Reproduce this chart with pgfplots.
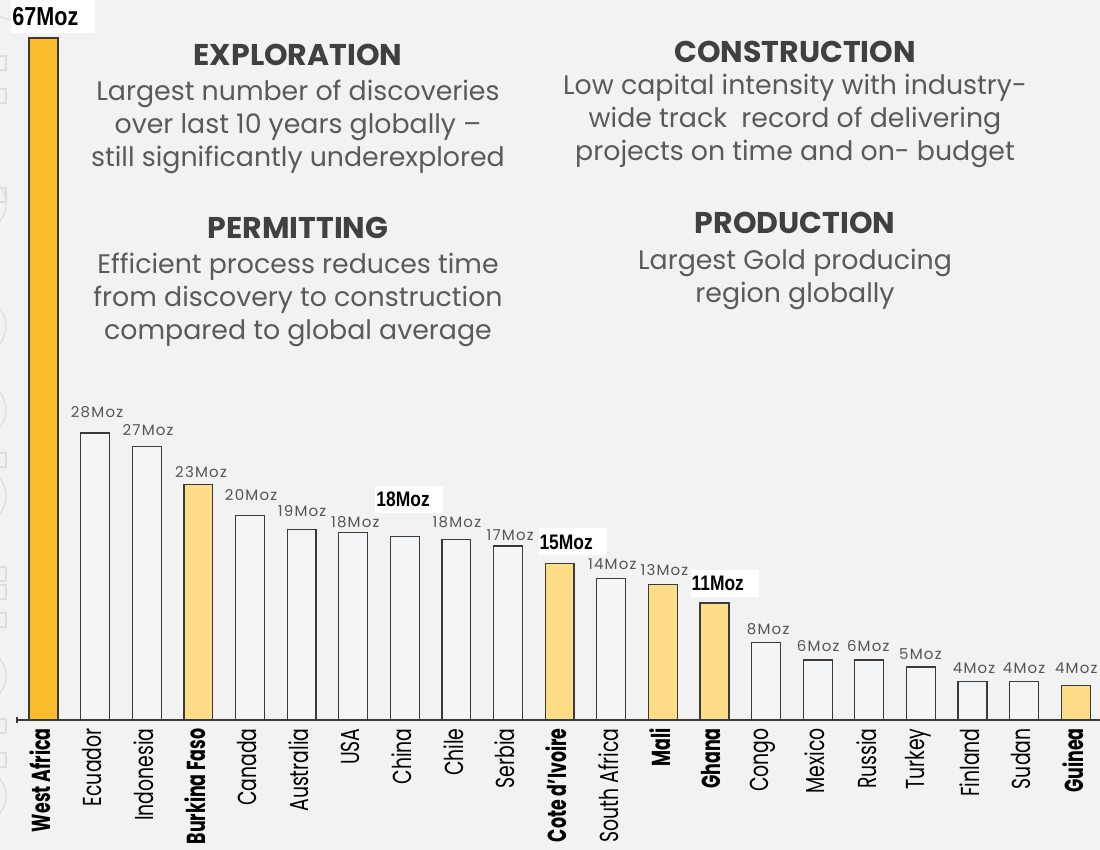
\documentclass[border=0pt]{standalone}
\usepackage{graphicx}
\usepackage{pgfplots}
\pgfplotsset{compat=1.18}
\usepackage{fontspec}
\setmainfont{Poppins}
\newfontfamily\arialb{Liberation Sans}
\newfontfamily\spaced[LetterSpace=8]{Poppins}
\definecolor{bg}{HTML}{F2F2F2}
\definecolor{gold}{HTML}{FBBC2C}
\definecolor{lightgold}{HTML}{FDDD87}
\definecolor{barwhite}{HTML}{F4F5F7}
\definecolor{edge}{HTML}{3A3A3A}
\definecolor{head}{HTML}{404040}
\definecolor{bodyc}{HTML}{5A5A5A}
\definecolor{vallab}{HTML}{555555}
\definecolor{deco}{HTML}{DDDDDD}
\newcommand\tl[1]{\scalebox{0.725}[1]{#1}}
\newcommand\tlb[1]{\scalebox{0.67}[1]{\textbf{#1}}}
\begin{document}
\begin{tikzpicture}
\fill[bg] (0,0) rectangle (550pt,425pt);
\useasboundingbox (0,0) rectangle (550pt,425pt);
% faint decorative shapes at the left edge
\begin{scope}[draw=deco, line width=0.6pt]
  \foreach \yc in {323,262,220,177,87,27} {\draw (-11pt,\yc pt) circle (14pt);}
  \foreach \yc in {393.5,377,327.5,195,129,115,138,62,45} {\draw (-2pt,\yc pt-3.5pt) rectangle (3pt,\yc pt+3.5pt);}
  \draw (-5pt,425pt) arc (180:360:12pt and 10pt);
\end{scope}
\begin{axis}[
  at={(8.5pt,65pt)}, anchor=south west,
  scale only axis, width=541.5pt, height=360pt,
  xmin=-0.514, xmax=20.47, ymin=0, ymax=70.73,
  clip=false,
  axis x line*=bottom, axis y line=none,
  x axis line style={-, draw=edge, line width=0.6pt},
  xtick={0,...,20}, xtick style={draw=none},
  xticklabels={\tlb{West Africa},\tl{Ecuador},\tl{Indonesia},\tlb{Burkina Faso},\tl{Canada},\tl{Australia},\tl{USA},\tl{China},\tl{Chile},\tl{Serbia},\tlb{Cote d'Ivoire},\tl{South Africa},\tlb{Mali},\tlb{Ghana},\tl{Congo},\tl{Mexico},\tl{Russia},\tl{Turkey},\tl{Finland},\tl{Sudan},\tlb{Guinea}},
  xticklabel style={yshift=-4pt, xshift=-1.5pt, rotate=90, anchor=east, inner sep=0pt, font=\fontsize{13}{15}\selectfont, text=black},
  ytick=\empty,
]
% West Africa
\addplot[ybar, bar shift=0pt, bar width=0.56, fill=gold, draw=edge, line width=0.6pt]
  coordinates {(0,67)};
% highlighted countries
\addplot[ybar, bar shift=0pt, bar width=0.56, fill=lightgold, draw=edge, line width=0.6pt]
  coordinates {(3,23.1) (10,15.4) (12,13.3) (13,11.5) (20,3.4)};
% other countries
\addplot[ybar, bar shift=0pt, bar width=0.56, fill=barwhite, draw=edge, line width=0.6pt]
  coordinates {(1,28.2) (2,26.9) (4,20.1) (5,18.7) (6,18.4) (7,18.0) (8,17.7) (9,17.1) (11,13.9) (14,7.6) (15,5.9) (16,5.9) (17,5.2) (18,3.8) (19,3.8)};
% gray value labels
\addplot[draw=none, mark=none, point meta=explicit symbolic, nodes near coords,
  every node near coord/.append style={anchor=center, inner sep=0pt, text=vallab, font=\spaced\fontsize{7.5}{8.5}\selectfont}]
  coordinates {(1.037,30.26)[28Moz] (2.025,28.49)[27Moz] (3.052,24.36)[23Moz] (4.021,22.10)[20Moz] (5.01,20.53)[19Moz] (6.04,19.45)[18Moz] (8.01,19.45)[18Moz] (9.04,18.17)[17Moz] (11.02,15.32)[14Moz] (12.03,14.73)[13Moz] (14.04,8.94)[8Moz] (15.01,7.27)[6Moz] (15.98,7.27)[6Moz] (16.99,6.48)[5Moz] (18.03,5.11)[4Moz] (19.0,5.11)[4Moz] (20.01,5.11)[4Moz]};
% bold value labels
\addplot[draw=none, mark=none, point meta=explicit symbolic,
  nodes near coords={\makebox[33pt][l]{\scalebox{0.83}[1]{\pgfplotspointmeta}}},
  every node near coord/.append style={anchor=west, fill=white, inner xsep=0.5pt, inner ysep=0pt, minimum height=13.5pt, text=black, font=\arialb\bfseries\fontsize{10.5}{12}\selectfont}]
  coordinates {(6.424,21.66)[18Moz] (9.583,17.49)[15Moz] (12.53,13.41)[11Moz]};
\addplot[draw=none, mark=none, point meta=explicit symbolic,
  nodes near coords={\makebox[41pt][l]{\scalebox{0.83}[1]{\pgfplotspointmeta}}},
  every node near coord/.append style={anchor=west, fill=white, inner xsep=0.5pt, inner ysep=0pt, minimum height=16.5pt, text=black, font=\arialb\bfseries\fontsize{13}{15}\selectfont}]
  coordinates {(-0.63,69.1)[67Moz]};
\end{axis}
% small tick at the left end of the base line
\draw[edge, line width=0.6pt] (8.5pt,63.5pt) -- (8.5pt,66.5pt);
% annotation texts
\node[text=head, font=\bfseries\fontsize{15}{18}\selectfont] at (149pt,397.5pt) {EXPLORATION};
\node[text=bodyc, align=center, font=\fontsize{13.4}{16.5}\selectfont] at (149pt,361.5pt) {Largest number of discoveries\\over last 10 years globally --\\still significantly underexplored};
\node[text=head, font=\bfseries\fontsize{15}{18}\selectfont] at (397.5pt,399pt) {CONSTRUCTION};
\node[text=bodyc, align=center, font=\fontsize{13.4}{16.5}\selectfont] at (397.5pt,364.5pt) {Low capital intensity with industry-\\wide track\ \ record of delivering\\projects on time and on- budget};
\node[text=head, font=\bfseries\fontsize{15}{18}\selectfont] at (149pt,311pt) {PERMITTING};
\node[text=bodyc, align=center, font=\fontsize{13.4}{16.5}\selectfont] at (149pt,275pt) {Efficient process reduces time\\from discovery to construction\\compared to global average};
\node[text=head, font=\bfseries\fontsize{15}{18}\selectfont] at (397.5pt,313.5pt) {PRODUCTION};
\node[text=bodyc, align=center, font=\fontsize{13.4}{16.5}\selectfont] at (397.5pt,285.5pt) {Largest Gold producing\\region globally};
\end{tikzpicture}
\end{document}
